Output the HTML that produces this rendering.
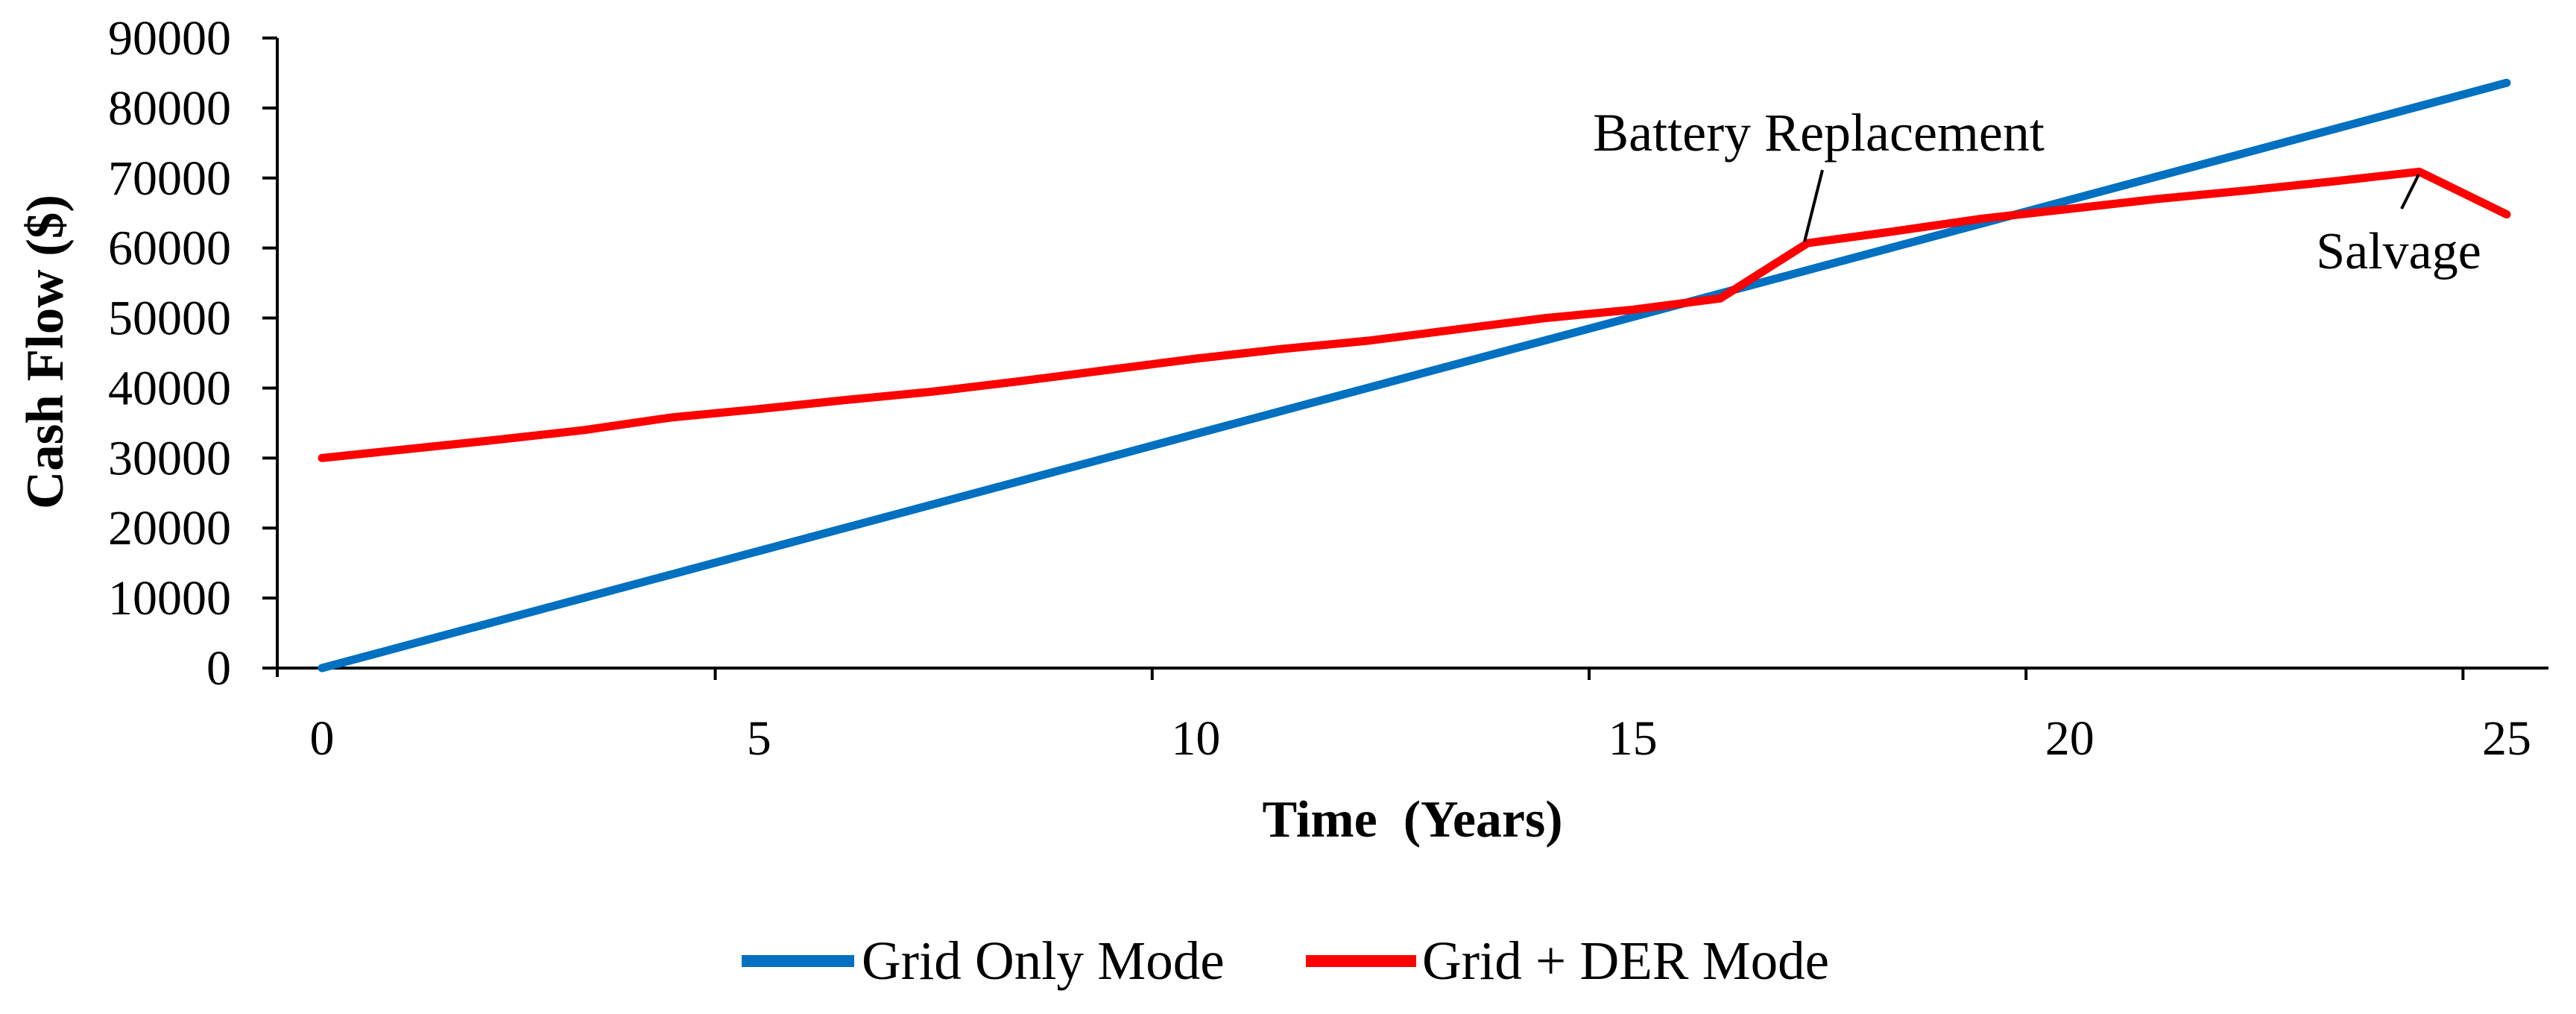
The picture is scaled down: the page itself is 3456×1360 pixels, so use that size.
<!DOCTYPE html>
<html><head><meta charset="utf-8"><style>
html,body{margin:0;padding:0;background:#fff;}
svg{display:block;font-family:"Liberation Serif",serif;}
</style></head><body>
<svg id="chart" width="3456" height="1360" viewBox="0 0 3456 1360" xmlns="http://www.w3.org/2000/svg">
<rect width="3456" height="1360" fill="#fff"/>
<g id="axes"></g>
<g id="series"></g>
<text transform="translate(84,472) rotate(-90)" text-anchor="middle" font-size="71" font-weight="bold">Cash Flow ($)</text>
<text x="1895" y="1122" text-anchor="middle" font-size="70" font-weight="bold">Time &#160;(Years)</text>
<text x="2440" y="202" text-anchor="middle" font-size="72">Battery Replacement</text>
<line x1="2445" y1="228" x2="2421" y2="324" stroke="#000" stroke-width="4"/>
<text x="3218" y="360" text-anchor="middle" font-size="70">Salvage</text>
<line x1="3245" y1="234" x2="3222" y2="280" stroke="#000" stroke-width="4"/>
<g>
<line x1="995" y1="1289" x2="1146" y2="1289" stroke="#0070C0" stroke-width="16"/>
<text x="1156" y="1313" font-size="73">Grid Only Mode</text>
<line x1="1752" y1="1289" x2="1900" y2="1289" stroke="#FF0000" stroke-width="16"/>
<text x="1908" y="1313" font-size="73">Grid + DER Mode</text>
</g>
</svg>
<script>
const years = [0,1,2,3,4,5,6,7,8,9,10,11,12,13,14,15,16,17,18,19,20,21,22,23,24,25];
const gridOnly = [0,3344,6688,10032,13376,16720,20064,23408,26752,30096,33440,36784,40128,43472,46816,50160,53504,56848,60192,63536,66880,70224,73568,76912,80256,83600];
const gridDer = [30000,31300,32600,34000,35800,37000,38300,39500,41000,42600,44200,45600,46800,48400,50000,51200,52800,60700,62400,64200,65600,67000,68200,69500,70900,64800];
const yTicks = [0,10000,20000,30000,40000,50000,60000,70000,80000,90000];
const xTickLabels = [0,5,10,15,20,25];

const NS = "http://www.w3.org/2000/svg";
const X0 = 432, XSTEP = (3363-432)/25;
const Y0 = 896, YTOP = 51, YMAX = 90000;
function xs(v){ return X0 + v*XSTEP; }
function ys(v){ return Y0 - (v/YMAX)*(Y0-YTOP); }
function mk(tag, attrs, parent){
  const e = document.createElementNS(NS, tag);
  for (const k in attrs) e.setAttribute(k, attrs[k]);
  parent.appendChild(e);
  return e;
}
const axes = document.getElementById('axes');
const series = document.getElementById('series');

let yl = mk('line', {x1:372, y1:ys(YMAX), x2:372, y2:Y0+12, stroke:'#000', 'stroke-width':4}, axes);


let xl = mk('line', {x1:358, y1:Y0, x2:3419, y2:Y0, stroke:'#000', 'stroke-width':4}, axes);



yTicks.forEach(v => {
  const t = mk('line', {x1:352, y1:ys(v), x2:372, y2:ys(v), stroke:'#000', 'stroke-width':4}, axes);
  
  
  const l = mk('text', {x:310, y:ys(v)+22, 'text-anchor':'end', 'font-size':66}, axes);
  l.textContent = v;
  
  
});
xTickLabels.forEach(v => {
  const tx = xs(v-0.5);
  if (v > 0) {
    const t = mk('line', {x1:tx, y1:Y0, x2:tx, y2:Y0+16, stroke:'#000', 'stroke-width':4}, axes);
    
    
  }
  const l = mk('text', {x:xs(v), y:1012, 'text-anchor':'middle', 'font-size':66}, axes);
  l.textContent = v;
  
  
});

function drawLine(vals, color, name){
  const pts = vals.map((v,i) => xs(years[i]).toFixed(1)+','+ys(v).toFixed(1)).join(' ');
  const p = mk('polyline', {points:pts, fill:'none', stroke:color, 'stroke-width':11, 'stroke-linejoin':'round', 'stroke-linecap':'round'}, series);
  
  
}
drawLine(gridOnly, '#0070C0', 'grid-only-line');
drawLine(gridDer, '#FF0000', 'grid-der-line');
</script>
</body></html>
